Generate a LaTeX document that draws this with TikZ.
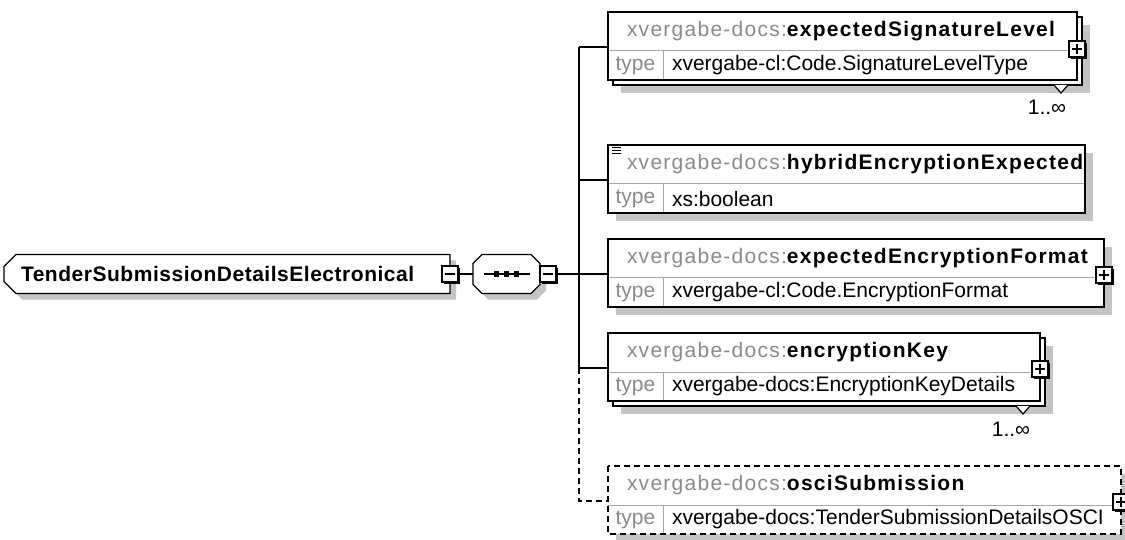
\documentclass[tikz,border=0pt]{standalone}
\usepackage{fontspec}
\setmainfont{Liberation Sans}
\newfontfamily\namefont[LetterSpace=6]{Liberation Sans}
\newfontfamily\rootfont[LetterSpace=2.5]{Liberation Sans}
\usetikzlibrary{positioning,shapes.misc,shadows,backgrounds,calc}
\definecolor{xsGray}{RGB}{138,138,138}
\definecolor{xsRule}{RGB}{165,165,165}
\definecolor{xsShadow}{RGB}{196,196,196}

\begin{document}
\begin{tikzpicture}[x=1pt,y=-1pt,
  font=\fontsize{21}{25}\selectfont,
  conn/.style={line width=1.4pt},
  outline/.style={draw,line width=1.4pt},
  elname/.style={anchor=north west,fill=white,minimum height=39pt,inner xsep=19pt,inner ysep=0pt,outer sep=0pt,align=left,font=\fontsize{21}{25}\namefont},
  tlabel/.style={anchor=north west,draw=xsRule,line width=1pt,fill=white,minimum width=55pt,minimum height=29pt,inner sep=0pt,outer sep=0pt,text=xsGray},
  tvalue/.style={anchor=north west,draw=xsRule,line width=1pt,fill=white,minimum height=29pt,inner xsep=9pt,inner ysep=0pt,outer sep=0pt,align=left},
  toggle/.style={draw,line width=1.2pt,fill=white,minimum size=16pt,inner sep=0pt,outer sep=0pt,
    general shadow={shadow xshift=2pt,shadow yshift=-2pt,fill=black}},
  plusbox/.style={toggle,path picture={
    \draw[line width=1.2pt] ([xshift=-5pt]path picture bounding box.center) -- ([xshift=5pt]path picture bounding box.center)
      ([yshift=-5pt]path picture bounding box.center) -- ([yshift=5pt]path picture bounding box.center);}},
  minusbox/.style={toggle,path picture={
    \draw[line width=1.2pt] ([xshift=-5pt]path picture bounding box.center) -- ([xshift=5pt]path picture bounding box.center);}},
  rootel/.style={chamfered rectangle,chamfered rectangle corners={north west,south west},
    chamfered rectangle xsep=6pt,chamfered rectangle ysep=6pt,draw,line width=1.4pt,fill=white,
    minimum height=39pt,inner xsep=11pt,inner ysep=0pt,outer sep=0pt,align=left,font=\fontsize{21}{25}\rootfont,
    general shadow={shadow xshift=6pt,shadow yshift=-6pt,fill=xsShadow}},
  seqel/.style={minimum width=67pt,minimum height=39pt,inner sep=0pt,outer sep=0pt},
  octa/.style={line width=1.4pt,fill=white},
  card/.style={inner sep=0pt}
]
  \useasboundingbox (0,0) rectangle (1125,540);

  % root element and sequence
  \node[rootel,text width=412pt] (root) at (227,274) {\textbf{TenderSubmissionDetailsElectronical}};
  \node[minusbox] (rootminus) at (root.east) {};
  \node[seqel] (seq) at (506.5,274) {};
  \fill[xsShadow,transform canvas={shift={(6pt,-6pt)}}] ([xshift=9pt]seq.north west) -- ([xshift=-9pt]seq.north east) -- ([yshift=-9pt]seq.north east)
    -- ([yshift=9pt]seq.south east) -- ([xshift=-9pt]seq.south east) -- ([xshift=9pt]seq.south west)
    -- ([yshift=9pt]seq.south west) -- ([yshift=-9pt]seq.north west) -- cycle;
  \draw[octa] ([xshift=9pt]seq.north west) -- ([xshift=-9pt]seq.north east) -- ([yshift=-9pt]seq.north east)
    -- ([yshift=9pt]seq.south east) -- ([xshift=-9pt]seq.south east) -- ([xshift=9pt]seq.south west)
    -- ([yshift=9pt]seq.south west) -- ([yshift=-9pt]seq.north west) -- cycle;
  \draw[line width=1.4pt] ([xshift=-23pt]seq.center) -- ([xshift=23pt]seq.center);
  \foreach \d in {-10,0,10}
    \fill ([xshift=\d pt]seq.center) ++(-2.75,-2.75) rectangle ++(5.5,5.5);
  \node[minusbox,anchor=west] (seqminus) at (seq.east) {};

  % child elements
  \node[elname,text width=431pt] (sig) at (608,12) {\textcolor{xsGray}{xvergabe-docs:}\textbf{expectedSignatureLevel}};
  \node[tlabel] (siglbl) at (sig.south west) {type};
  \node[tvalue,text width=396pt,right=0pt of siglbl] (sigval) {xvergabe-cl:Code.SignatureLevelType};

  \node[elname,text width=439pt] (hyb) at (608,145) {\textcolor{xsGray}{xvergabe-docs:}\textbf{hybridEncryptionExpected}};
  \node[tlabel] (hyblbl) at (hyb.south west) {type};
  \node[tvalue,text width=404pt,right=0pt of hyblbl] (hybval) {xs:boolean};

  \node[elname,text width=458pt] (fmt) at (608,239) {\textcolor{xsGray}{xvergabe-docs:}\textbf{expectedEncryptionFormat}};
  \node[tlabel] (fmtlbl) at (fmt.south west) {type};
  \node[tvalue,text width=423pt,right=0pt of fmtlbl] (fmtval) {xvergabe-cl:Code.EncryptionFormat};

  \node[elname,text width=394pt] (key) at (608,333) {\textcolor{xsGray}{xvergabe-docs:}\textbf{encryptionKey}};
  \node[tlabel] (keylbl) at (key.south west) {type};
  \node[tvalue,text width=359pt,right=0pt of keylbl] (keyval) {xvergabe-docs:EncryptionKeyDetails};

  \node[elname,text width=475pt] (osci) at (608,466) {\textcolor{xsGray}{xvergabe-docs:}\textbf{osciSubmission}};
  \node[tlabel,draw=none] (oscilbl) at (osci.south west) {type};
  \node[tvalue,draw=none,text width=440pt,right=0pt of oscilbl] (oscival) {xvergabe-docs:TenderSubmissionDetailsOSCI};

  % outlines
  \draw[outline] (sig.north west) rectangle (sigval.south east);
  \draw[outline] (hyb.north west) rectangle (hybval.south east);
  \draw[outline] (fmt.north west) rectangle (fmtval.south east);
  \draw[outline] (key.north west) rectangle (keyval.south east);
  \draw[xsRule,line width=1pt] (oscilbl.north west) -- (oscival.north east) (oscival.north west) -- (oscival.south west);
  \draw[outline,dash pattern=on 6pt off 4pt] (osci.north west) rectangle (oscival.south east);
  \foreach \k in {2.5,5.5,8.5}
    \draw[line width=1.1pt] ($(hyb.north west)+(4,\k)$) -- +(9,0);

  % expand buttons
  \node[plusbox] (sigplus) at ([yshift=2pt]sigval.north east) {};
  \node[plusbox] (fmtplus) at ([yshift=3pt]fmtval.north east) {};
  \node[plusbox] (keyplus) at ([yshift=3pt]keyval.north east) {};
  \node[plusbox] (osciplus) at ([yshift=3pt]oscival.north east) {};

  % shadows, stacked copies, cardinality
  \begin{scope}[on background layer]
    \fill[xsShadow] ($(sig.north west)+(13,13)$) rectangle ($(sigval.south east)+(13,13)$);
    \draw[outline,fill=white] ($(sig.north west)+(5,5)$) rectangle ($(sigval.south east)+(5,5)$);
    \draw[line width=1.2pt,fill=white] ($(sigval.south east)+(-23,5)$) -- ++(7,8) -- ++(7,-8);
    \fill[xsShadow] ($(hyb.north west)+(8,8)$) rectangle ($(hybval.south east)+(8,8)$);
    \fill[xsShadow] ($(fmt.north west)+(8,8)$) rectangle ($(fmtval.south east)+(8,8)$);
    \fill[xsShadow] ($(key.north west)+(13,13)$) rectangle ($(keyval.south east)+(13,13)$);
    \draw[outline,fill=white] ($(key.north west)+(5,5)$) rectangle ($(keyval.south east)+(5,5)$);
    \draw[line width=1.2pt,fill=white] ($(keyval.south east)+(-24,5)$) -- ++(7,8) -- ++(7,-8);
    \fill[xsShadow] ($(osci.north west)+(8,8)$) rectangle ($(oscival.south east)+(8,8)$);
  \end{scope}
  \node[card] (sigcard) at ($(sigval.south east)+(-30,27)$) {1..∞};
  \node[card] (keycard) at ($(keyval.south east)+(-29,28)$) {1..∞};

  % connectors
  \coordinate (spine1) at (579,47);
  \coordinate (spine2) at (579,180);
  \coordinate (spine3) at (579,274);
  \coordinate (spine4) at (579,368);
  \coordinate (spine5) at (579,501);
  \draw[conn] (rootminus.east) -- (seq.west);
  \draw[conn] (seqminus.east) -- (spine3);
  \draw[conn] (spine1) -- (spine4);
  \foreach \j/\b in {spine1/sig,spine2/hyb,spine3/fmt,spine4/key}
    \draw[conn] (\j) -- (\j -| \b.west);
  \draw[conn,dash pattern=on 6pt off 4pt] (spine4) -- (spine5) -- (spine5 -| osci.west);
\end{tikzpicture}
\end{document}
